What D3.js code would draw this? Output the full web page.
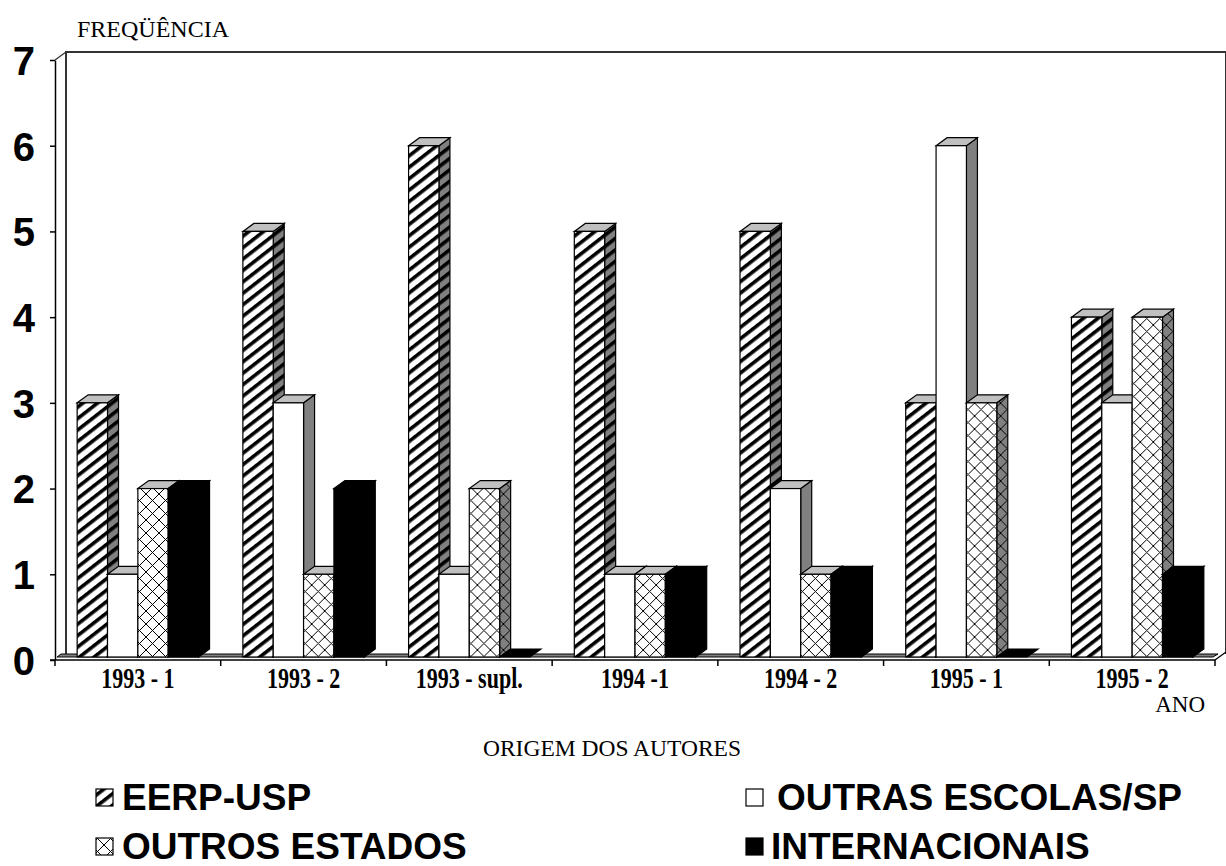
<!DOCTYPE html>
<html>
<head>
<meta charset="utf-8">
<script src="https://cdn.jsdelivr.net/npm/d3@7"></script>
<style>
  html, body { margin: 0; padding: 0; background: #fff; }
  svg { display: block; }
</style>
</head>
<body>
<svg id="chart" width="1226" height="866"></svg>
<script>
// DATA
const CATEGORIES = ["1993 - 1", "1993 - 2", "1993 - supl.", "1994 -1", "1994 - 2", "1995 - 1", "1995 - 2"];
const SERIES = ["EERP-USP", "OUTRAS ESCOLAS/SP", "OUTROS ESTADOS", "INTERNACIONAIS"];
const EERP = [3, 5, 6, 5, 5, 3, 4];
const OUTRAS = [1, 3, 1, 1, 2, 6, 3];
const ESTADOS = [2, 1, 2, 1, 1, 3, 4];
const INTERN = [2, 2, 0, 1, 1, 0, 1];
const Y_TICKS = [0, 1, 2, 3, 4, 5, 6, 7];

const VALUES = [EERP, OUTRAS, ESTADOS, INTERN];

// 3D depth offset
const DX = 11, DY = -8;

let svg = d3.select("#chart");
let defs = svg.append("defs");

// SCALES
let y = d3.scaleLinear().domain([0, 7]).range([660, 60]);
let x = d3.scaleBand().domain(CATEGORIES).range([55, 1215]);
let x1 = d3.scaleBand().domain(SERIES).range([0, x.bandwidth()]).paddingInner(0).paddingOuter(0.73);

// PATTERNS
function stripes(id, bg) {
	let p = defs.append("pattern")
	.attr("id", id)
	.attr("patternUnits", "userSpaceOnUse")
	.attr("width", 9).attr("height", 10)
	.attr("patternTransform", "rotate(52)");
	p.append("rect").attr("width", 9).attr("height", 10).attr("fill", bg);
	p.append("rect").attr("width", 3.6).attr("height", 10).attr("fill", "#000");
}
function lattice(id, bg) {
	let p = defs.append("pattern")
	.attr("id", id)
	.attr("patternUnits", "userSpaceOnUse")
	.attr("width", 13).attr("height", 13);
	p.append("rect").attr("width", 13).attr("height", 13).attr("fill", bg);
	p.append("path")
	.attr("d", "M0,0L13,13M13,0L0,13")
	.attr("stroke", "#000").attr("stroke-width", 1).attr("fill", "none");
}
stripes("stripeFront", "#fff");
stripes("stripeSide", "#808080");
lattice("latFront", "#fff");
lattice("latSide", "#808080");

const STYLES = {
	"EERP-USP":          { front: "url(#stripeFront)", side: "url(#stripeSide)", top: "#c0c0c0" },
	"OUTRAS ESCOLAS/SP": { front: "#fff", side: "#808080", top: "#c0c0c0" },
	"OUTROS ESTADOS":    { front: "url(#latFront)", side: "url(#latSide)", top: "#c0c0c0" },
	"INTERNACIONAIS":    { front: "#000", side: "#000", top: "#000" }
};

// BACK WALL + FLOOR
let x0 = x.range()[0], xEnd = x.range()[1];
let base = y(0) - 3;

svg.append("path")
.attr("d", `M${x0 + DX},${base - 3}V${y(7) + DY}H${xEnd + DX}V${base - 3}`)
.attr("fill", "none").attr("stroke", "#333").attr("stroke-width", 2);
svg.append("path")
.attr("d", `M${x0},${y(7)}L${x0 + DX},${y(7) + DY}`)
.attr("fill", "none").attr("stroke", "#333").attr("stroke-width", 1.2);

svg.append("path")
.attr("d", `M${x0 + 2},${base}H${xEnd - 2}L${xEnd + 3},${base - 3}H${x0 + 6}Z`)
.attr("fill", "#808080").attr("stroke", "#000").attr("stroke-width", 1);

// BARS
let groups = svg.append("g").attr("class", "bars")
.selectAll("g")
.data(CATEGORIES)
.enter()
.append("g")
.attr("transform", d => `translate(${x(d)},0)`);

groups.each(function(cat, ci) {
	let g = d3.select(this);
	SERIES.forEach((s, si) => {
		let v = VALUES[si][ci];
		let st = STYLES[s];
		let bx = x1(s), w = x1.bandwidth();
		let top = v > 0 ? y(v) : base;
		// side
		if (v > 0) {
			g.append("path")
			.attr("d", `M${bx + w},${top}L${bx + w + DX},${top + DY}V${base + DY}L${bx + w},${base}Z`)
			.attr("fill", st.side).attr("stroke", "#000").attr("stroke-width", 1.2);
		}
		// top
		g.append("path")
		.attr("d", `M${bx},${top}L${bx + DX},${top + DY}H${bx + w + DX}L${bx + w},${top}Z`)
		.attr("fill", st.top).attr("stroke", "#000").attr("stroke-width", 1.2);
		// front
		if (v > 0) {
			g.append("rect")
			.attr("x", bx).attr("y", top)
			.attr("width", w).attr("height", base - top)
			.attr("fill", st.front).attr("stroke", "#000").attr("stroke-width", 1.2);
		}
	});
});

// Y AXIS
let yAxis = svg.append("g")
.attr("transform", `translate(${x0},0)`)
.call(d3.axisLeft(y).tickValues(Y_TICKS).tickFormat(d3.format("d")).tickSize(5).tickSizeOuter(0).tickPadding(15));
yAxis.select(".domain").attr("stroke", "#000").attr("stroke-width", 1.5);
yAxis.selectAll(".tick line").attr("stroke", "#000").attr("stroke-width", 1.5);
yAxis.selectAll(".tick text")
.attr("font-family", "'Liberation Sans', Arial, sans-serif")
.attr("font-weight", "bold")
.attr("font-size", 40)
.attr("dy", "0.36em")
.attr("fill", "#000");

// X AXIS
svg.append("line")
.attr("x1", x0 - 5).attr("x2", xEnd)
.attr("y1", y(0)).attr("y2", y(0))
.attr("stroke", "#000").attr("stroke-width", 1.5);
svg.append("line")
.attr("x1", xEnd).attr("y1", y(0))
.attr("x2", xEnd + DX).attr("y2", y(0) + DY)
.attr("stroke", "#000").attr("stroke-width", 1.2);

let bounds = CATEGORIES.map(c => x(c)).concat([xEnd]);
svg.append("g").selectAll("line")
.data(bounds)
.enter()
.append("line")
.attr("x1", d => d).attr("x2", d => d)
.attr("y1", y(0)).attr("y2", y(0) + 6)
.attr("stroke", "#000").attr("stroke-width", 1.5);

svg.append("g").selectAll("text")
.data(CATEGORIES)
.enter()
.append("text")
.attr("transform", d => `translate(${x(d) + x.bandwidth() / 2},${y(0) + 28}) scale(1,1.3)`)
.attr("text-anchor", "middle")
.attr("font-family", "'Liberation Serif', 'Times New Roman', serif")
.attr("font-weight", "bold")
.attr("font-size", 22)
.text(d => d);

// TITLES
const serif = "'Liberation Serif', 'Times New Roman', serif";
svg.append("text")
.attr("x", 77).attr("y", 37)
.attr("font-family", serif).attr("font-size", 24)
.text("FREQÜÊNCIA");

svg.append("text")
.attr("x", 1205).attr("y", 712)
.attr("text-anchor", "end")
.attr("font-family", serif).attr("font-size", 23)
.text("ANO");

svg.append("text")
.attr("x", 612).attr("y", 756)
.attr("text-anchor", "middle")
.attr("font-family", serif).attr("font-size", 23.5)
.text("ORIGEM DOS AUTORES");

// LEGEND
const LEGEND_POS = [
	{ bx: 96, tx: 122, cy: 797 },
	{ bx: 746, tx: 777, cy: 797 },
	{ bx: 96, tx: 122, cy: 846 },
	{ bx: 746, tx: 771, cy: 846 }
];

let legend = svg.append("g").selectAll("g")
.data(SERIES)
.enter()
.append("g");

legend.append("rect")
.attr("x", (d, i) => LEGEND_POS[i].bx)
.attr("y", (d, i) => LEGEND_POS[i].cy - 8)
.attr("width", 17).attr("height", 17)
.attr("fill", d => STYLES[d].front)
.attr("stroke", "#000").attr("stroke-width", 1.2);

legend.append("text")
.attr("x", (d, i) => LEGEND_POS[i].tx)
.attr("y", (d, i) => LEGEND_POS[i].cy + 13)
.attr("font-family", "'Liberation Sans', Arial, sans-serif")
.attr("font-weight", "bold")
.attr("font-size", 37)
.text(d => d);
</script>
</body>
</html>
